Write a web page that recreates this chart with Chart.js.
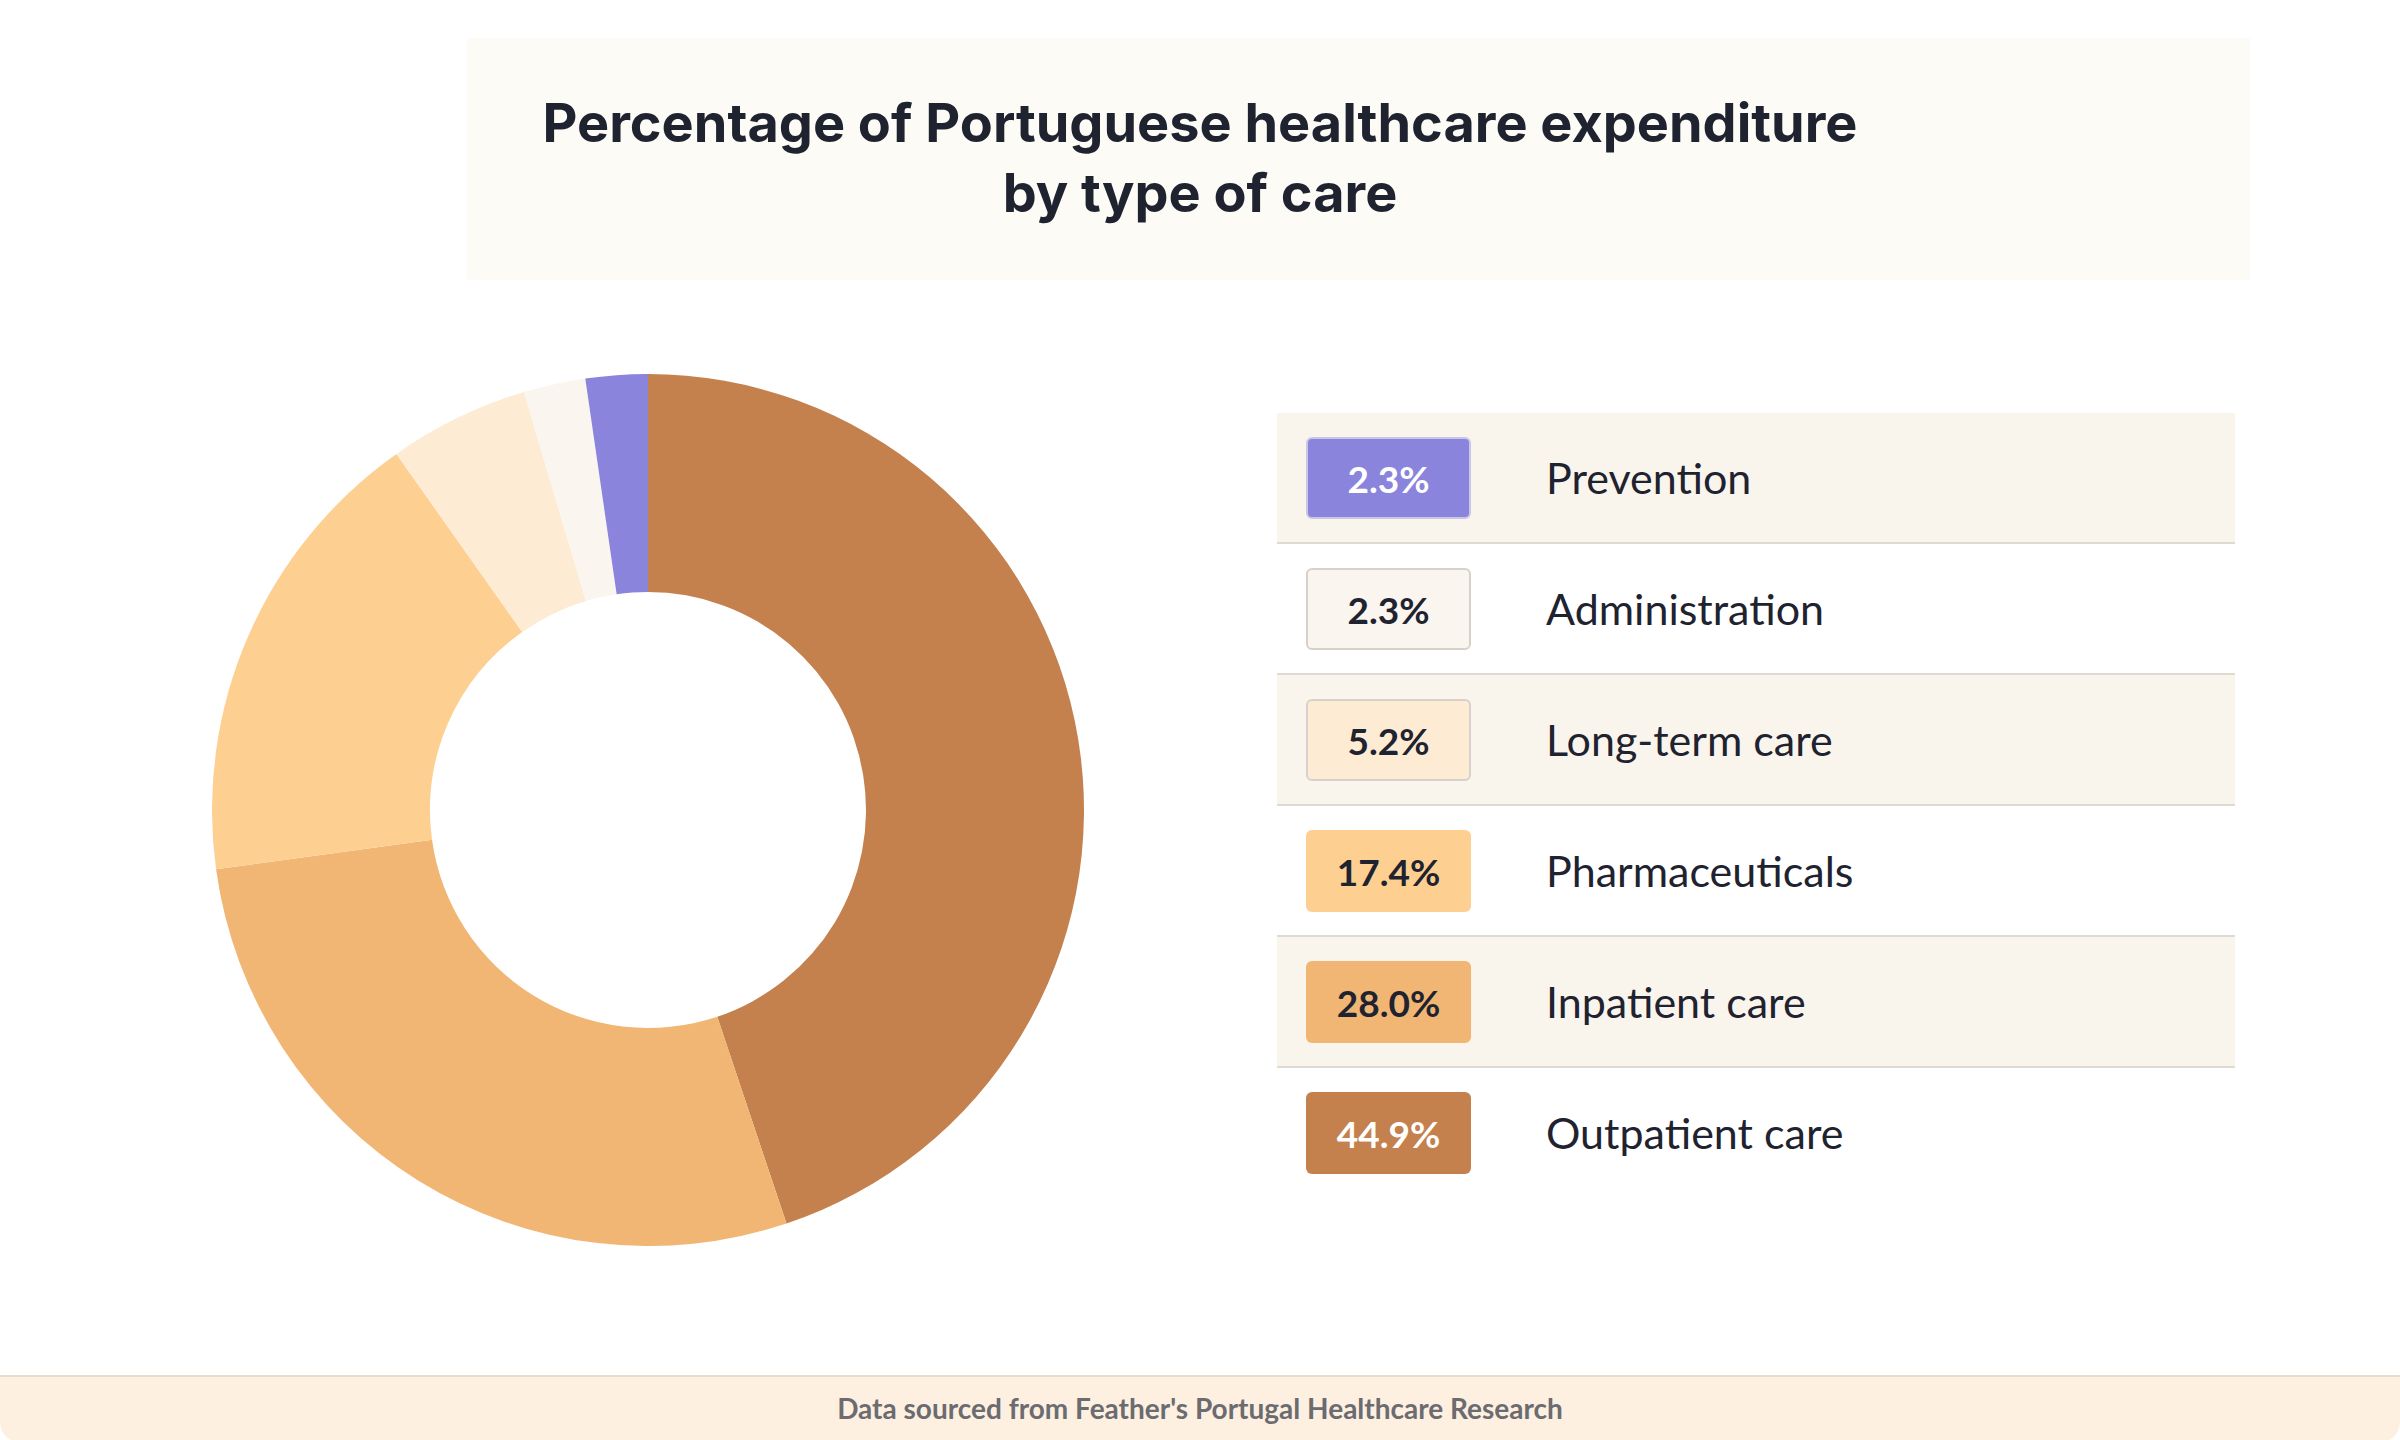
<!DOCTYPE html>
<html><head><meta charset="utf-8">
<script src="https://cdn.jsdelivr.net/npm/chart.js@4"></script>
<style>
html,body{margin:0;padding:0;width:2400px;height:1440px;background:#fff;overflow:hidden;font-family:Lato,sans-serif}
#titlebox{position:absolute;left:467px;top:38px;width:1783px;height:242px;background:#fdfbf5}
#title{position:absolute;left:0;width:2400px;top:88px;text-align:center;font-family:Inter,sans-serif;font-weight:700;font-size:54px;line-height:70px;color:#1f2330}
#chartwrap{position:absolute;left:212px;top:374px;width:872px;height:872px}
#legend{position:absolute;left:1277px;top:413px;width:958px}
.row{height:131px;position:relative;border-bottom:2px solid #ddd9d3;box-sizing:border-box}
.row:last-child{border-bottom:none}
.badge{position:absolute;left:29px;top:24px;width:165px;height:82px;border-radius:6px;box-sizing:border-box;display:flex;align-items:center;justify-content:center;font-size:37px;font-weight:700}
.lab{position:absolute;left:269px;top:0;height:129px;line-height:129px;font-size:43px;color:#1f2330}
#footer{position:absolute;left:0;top:1375px;width:2400px;height:65px;background:#fdf0e0;border-top:2px solid #e6ddd2;border-radius:0 0 20px 20px;text-align:center;line-height:62px;font-size:28px;font-weight:700;color:#6b6b70}
</style></head><body>
<div id="titlebox"></div>
<div id="title">Percentage of Portuguese healthcare expenditure<br>by type of care</div>
<div id="chartwrap"><canvas id="c"></canvas></div>
<div id="legend"></div>
<div id="footer">Data sourced from Feather's Portugal Healthcare Research</div>
<script>
const categories=["Outpatient care","Inpatient care","Pharmaceuticals","Long-term care","Administration","Prevention"];
const values=[44.9,28.0,17.4,5.2,2.3,2.3];
const colors=["#c4814e","#f1b673","#fdd092","#fdebd3","#faf5ee","#8a84dc"];
const legendText=["#ffffff","#1f2330","#1f2330","#1f2330","#1f2330","#ffffff"];
const legendBorder=["none","none","none","2px solid #d6d1cb","2px solid #d6d1cb","2px solid #c9c6e6"];
const rowBg=["#faf5ec","#ffffff","#faf5ec","#ffffff","#faf5ec","#ffffff"];
const lg=document.getElementById('legend');
for(let i=categories.length-1,r=0;i>=0;i--,r++){
  const row=document.createElement('div');row.className='row';row.style.background=rowBg[r];
  row.innerHTML=`<div class="badge" style="background:${colors[i]};color:${legendText[i]};border:${legendBorder[i]}">${values[i].toFixed(1)}%</div><div class="lab">${categories[i]}</div>`;
  lg.appendChild(row);
}
new Chart(document.getElementById('c'),{type:'doughnut',
 data:{labels:categories,datasets:[{data:values,backgroundColor:colors,borderWidth:0}]},
 options:{responsive:true,maintainAspectRatio:false,devicePixelRatio:1,animation:false,cutout:'50%',
  layout:{padding:0},plugins:{legend:{display:false},tooltip:{enabled:false}}}});
</script>
</body></html>
